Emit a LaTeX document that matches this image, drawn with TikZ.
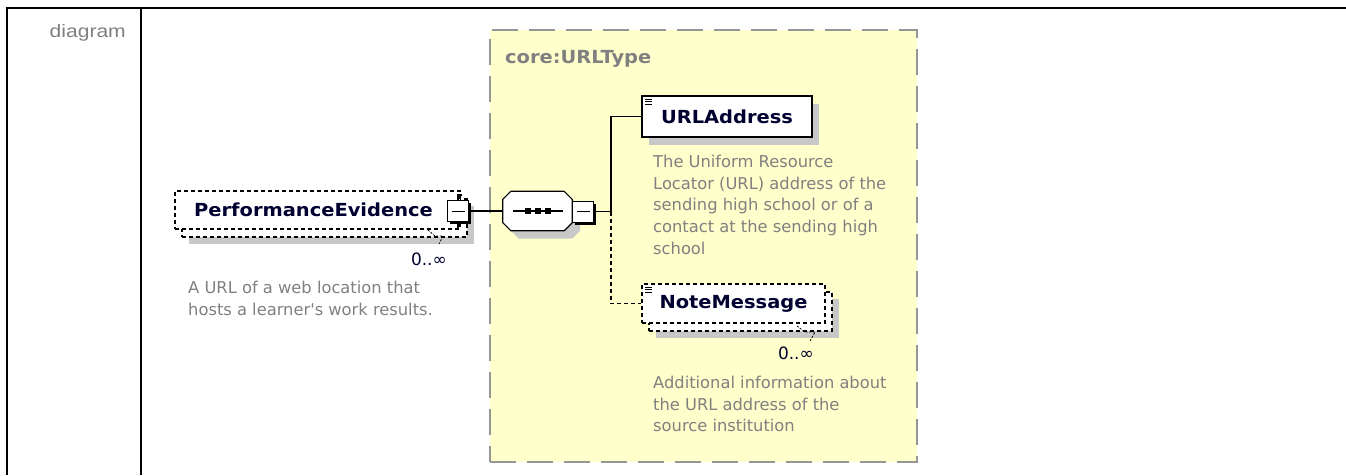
\documentclass[tikz,border=0pt]{standalone}
\usepackage{fontspec}
\setmainfont{Liberation Sans}
\newfontfamily\namefont[FakeStretch=1.08]{DejaVu Sans}
\newfontfamily\descfont{DejaVu Sans}
\newfontfamily\headfont[FakeStretch=1.17]{Liberation Sans}
\usetikzlibrary{shadows}

\definecolor{namecol}{RGB}{0,0,48}
\definecolor{desccol}{RGB}{128,128,128}
\definecolor{typeyellow}{RGB}{255,255,204}
\definecolor{typegray}{RGB}{150,150,150}
\definecolor{shadowgray}{RGB}{200,200,200}

\tikzset{
  frameline/.style={line width=2.5pt},
  typebox/.style={draw=typegray, fill=typeyellow, line width=2pt, dash pattern=on 26pt off 11pt, inner sep=0pt},
  typetitle/.style={font=\fontsize{18}{20}\namefont\bfseries, text=desccol, inner sep=0pt},
  elembox/.style={draw, fill=white, line width=1.2pt, inner sep=0pt, text=namecol, font=\fontsize{18}{20}\namefont\bfseries},
  optbox/.style={elembox, dash pattern=on 4pt off 3pt},
  oneshadow/.style={drop shadow={shadow xshift=7pt, shadow yshift=-8pt, fill=shadowgray, opacity=1}},
  manyshadow/.style={drop shadow={shadow xshift=14pt, shadow yshift=-15pt, fill=shadowgray, opacity=1},
    copy shadow={shadow xshift=7pt, shadow yshift=-8pt, draw, fill=white}},
  seqarea/.style={minimum width=69pt, minimum height=39pt, inner sep=0pt},
  seqline/.style={draw, fill=white, line width=1.2pt,
    drop shadow={shadow xshift=8pt, shadow yshift=-8pt, fill=shadowgray, opacity=1}},
  minusbox/.style={draw, fill=white, line width=1pt, minimum width=21pt, minimum height=21pt, inner sep=0pt,
    drop shadow={shadow xshift=2.5pt, shadow yshift=-2.5pt, fill=black, opacity=1},
    path picture={\draw[line width=1pt] ([xshift=4pt]path picture bounding box.west) -- ([xshift=-4pt]path picture bounding box.east);}},
  link/.style={line width=1.3pt},
  optlink/.style={link, dash pattern=on 4pt off 3pt},
  notch/.style={line width=.8pt, dash pattern=on 2pt off 1.5pt},
  occurs/.style={font=\fontsize{17}{19}\descfont, text=namecol, inner sep=0pt},
  desc/.style={font=\fontsize{16.3}{21.7}\descfont, text=desccol, align=left, inner sep=0pt},
}

\begin{document}
\begin{tikzpicture}[x=1pt, y=-1pt]
  \useasboundingbox (0,0) rectangle (1346,475);

  % table frame
  \draw[frameline] (7,475) -- (7,8) -- (1346,8);
  \draw[frameline] (141,8) -- (141,475);
  \node[font=\fontsize{18}{20}\headfont, text=desccol, anchor=base east, inner sep=0pt] (caption) at (126,37) {diagram};

  % complex type
  \node[typebox, minimum width=427pt, minimum height=432pt] (urltype) at (703.5,246) {};
  \node[typetitle, anchor=north west] (typename) at (505,50) {core:URLType};

  % elements
  \node[optbox, manyshadow, minimum width=285pt, minimum height=38pt] (pe) at (317.5,210) {PerformanceEvidence\hspace*{8pt}};
  \node[elembox, oneshadow, minimum width=170pt, minimum height=41pt] (url) at (727,116.5) {URLAddress};
  \node[optbox, manyshadow, minimum width=183pt, minimum height=39pt] (note) at (733.5,303.5) {NoteMessage};
  \foreach \el in {url,note}
    \foreach \dy in {4,6.5,9}
      \draw[line width=1pt] ([shift={(4,\dy)}]\el.north west) -- ++(7,0);

  % sequence
  \node[minusbox] (peminus) at (458,211) {};
  \draw[link] (peminus.north) -- ++(0,-5) -- ++(4,0);
  \draw[link] (peminus.south) -- (peminus.south |- pe.south);
  \node[seqarea] (seq) at (537.5,211) {};
  \draw[seqline] ([xshift=8pt]seq.north west) -- ([xshift=-8pt]seq.north east)
    -- ([yshift=-8pt]seq.north east) -- ([yshift=8pt]seq.south east)
    -- ([xshift=-8pt]seq.south east) -- ([xshift=8pt]seq.south west)
    -- ([yshift=8pt]seq.south west) -- ([yshift=-8pt]seq.north west) -- cycle;
  \draw[link] ([xshift=-25pt]seq.center) -- ([xshift=25pt]seq.center);
  \foreach \dx in {-10,0,10}
    \fill ([xshift=\dx pt]seq.center) +(-3,-3) rectangle +(3,3);
  \node[minusbox] (seqminus) at (583,211.5) {};

  % connectors
  \coordinate (fork) at (611,211.5);
  \draw[link] (peminus.east) -- (seq.west);
  \draw[link] (seqminus.east) -- (fork) |- (url.west);
  \draw[optlink] (fork) |- (note.west);

  % occurrences
  \node[occurs, anchor=base east] (peocc) at (447,265) {0..∞};
  \node[occurs, anchor=base east] (noteocc) at (814,359) {0..∞};
  \draw[notch] (428,230) -- (435,236) -- (443,236) -- (439,244);
  \draw[notch] (797,326) -- (805,332) -- (815,332) -- (810,341);

  % annotations
  \node[desc, anchor=north west] (pedesc) at (188,281) {A URL of a web location that\\hosts a learner's work results.};
  \node[desc, anchor=north west] (urldesc) at (653,155) {The Uniform Resource\\Locator (URL) address of the\\sending high school or of a\\contact at the sending high\\school};
  \node[desc, anchor=north west] (notedesc) at (653,376) {Additional information about\\the URL address of the\\source institution};
\end{tikzpicture}
\end{document}
